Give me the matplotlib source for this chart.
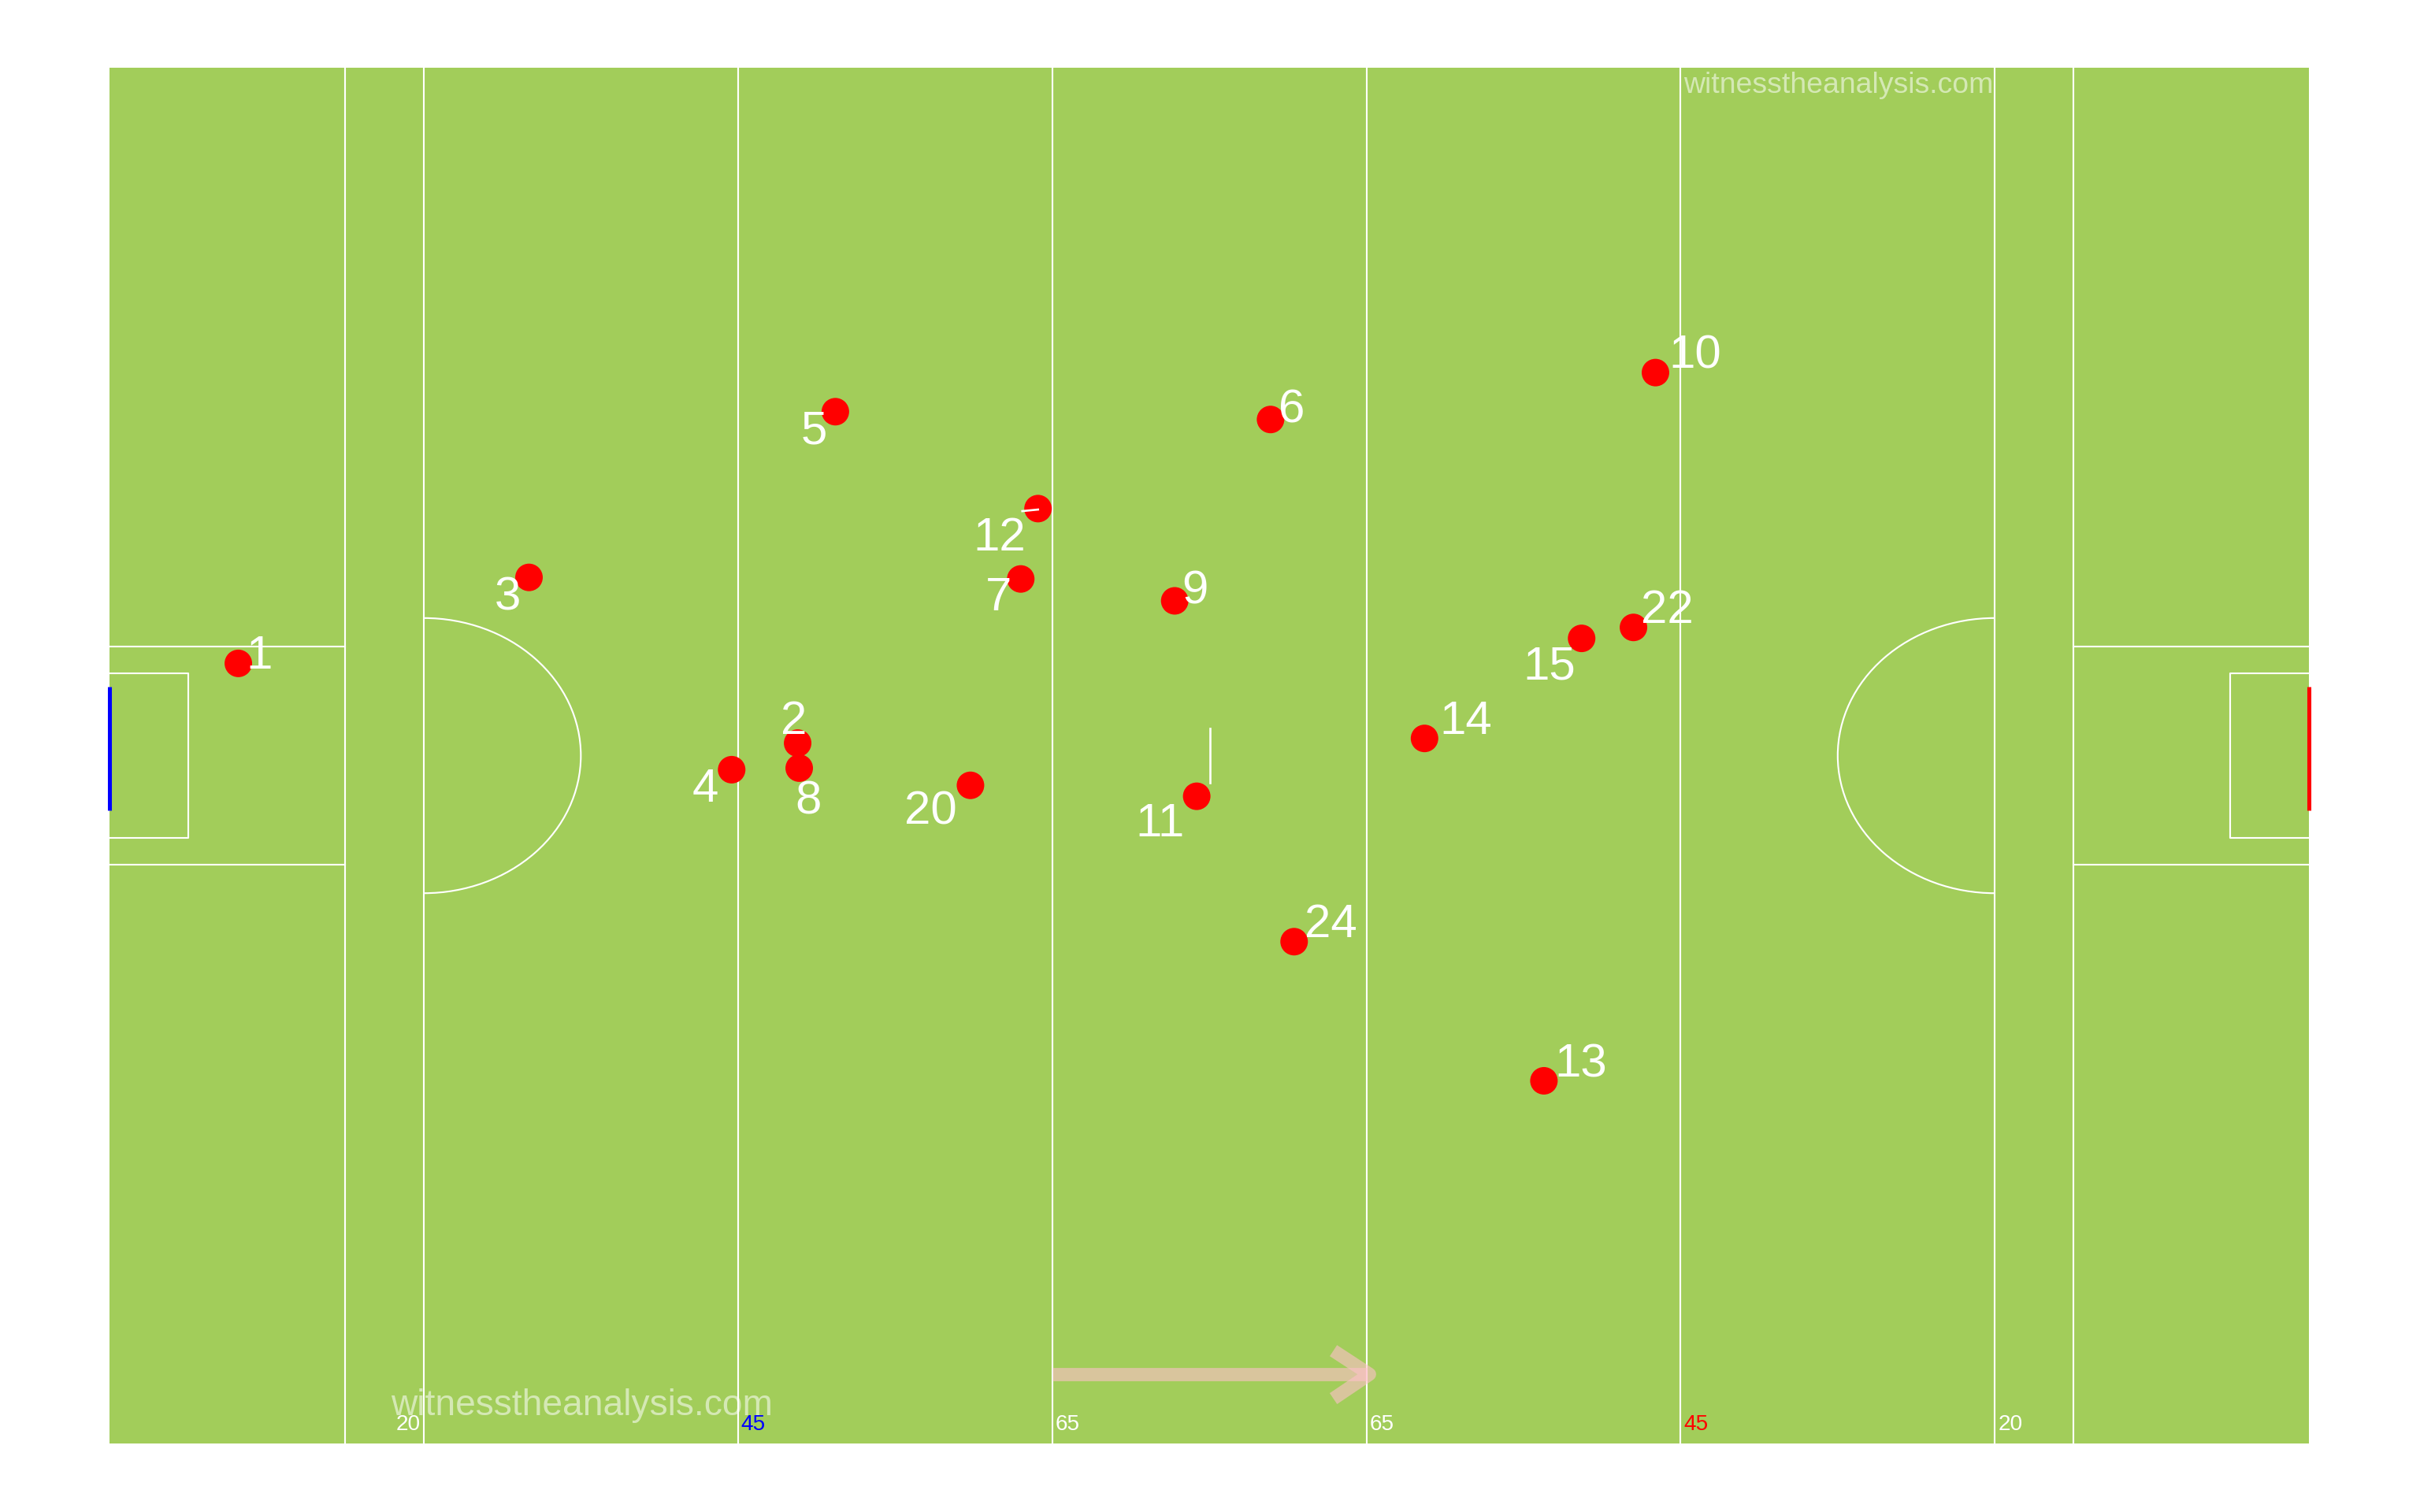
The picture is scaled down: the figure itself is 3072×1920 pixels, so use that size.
import matplotlib
matplotlib.use("Agg")
import matplotlib.pyplot as plt
from matplotlib.patches import Rectangle, Arc

plt.rcParams['font.family'] = ['Liberation Sans', 'DejaVu Sans']

# kick-out / possession positions (pitch units: 0-140 long, 0-88 wide)
labels = ['1', '2', '3', '4', '5', '6', '7', '8', '9', '10', '11', '12',
          '13', '14', '15', '20', '22', '24']
pos_x = [8.2, 43.8, 26.7, 39.6, 46.2, 73.9, 58.0, 43.9, 67.8, 98.4, 69.2, 59.1,
         91.3, 83.7, 93.7, 54.8, 97.0, 75.4]
pos_y = [49.9, 44.8, 55.4, 43.1, 66.0, 65.5, 55.3, 43.2, 53.9, 68.5, 41.4, 59.8,
         23.2, 45.1, 51.5, 42.1, 52.2, 32.1]

# leader segments drawn by the label repeller (x0, y0, x1, y1)
seg_x0 = [58.1, 70.05]
seg_y0 = [59.64, 42.26]
seg_x1 = [59.1, 70.05]
seg_y1 = [59.74, 45.74]

# pitch markings
line_x = [15, 20, 40, 60, 80, 100, 120, 125]
dist_labels = ['20', '45', '65', '65', '45', '20']
dist_x = [19.8, 40.2, 60.2, 80.2, 100.2, 120.2]
dist_colors = ['white', 'blue', 'white', 'white', 'red', 'white']
dist_ha = ['right', 'left', 'left', 'left', 'left', 'left']

# label offsets in points (repelled label placement)
offsets = [(10, 5), (-2, 12), (-10, -8), (-12.5, -7.5), (-10, -7.5), (10, 6),
           (-10.5, -7.5), (4.5, -14), (9.8, 6.4), (19, 9.6), (-17.6, -11.3),
           (-18.4, -12.4), (17.6, 9.6), (19.8, 9.6), (-15.4, -11.8), (-19, -11),
           (16.2, 9.6), (17.6, 9.6)]

L, W = 140, 88
green = '#A2CD5A'

fig = plt.figure(figsize=(16, 10), dpi=192)
ax = fig.add_axes([0.04525, 0.0453, 0.9089, 0.9099])
ax.set_xlim(0, L)
ax.set_ylim(0, W)
ax.axis('off')

ax.add_patch(Rectangle((0, 0), L, W, facecolor=green, edgecolor='none', zorder=0))

lw = 0.8
for x in line_x:
    ax.plot([x, x], [0, W], color='white', lw=lw, zorder=1)

# large and small rectangles
for x0, x1 in [(0, 15), (125, 140)]:
    ax.plot([x0, x1], [37.0, 37.0], color='white', lw=lw, zorder=1)
    ax.plot([x0, x1], [51.0, 51.0], color='white', lw=lw, zorder=1)
ax.plot([0, 5, 5, 0], [38.74, 38.74, 49.26, 49.26], color='white', lw=lw, zorder=1)
ax.plot([140, 135, 135, 140], [38.74, 38.74, 49.26, 49.26], color='white', lw=lw, zorder=1)

# semicircles
ax.add_patch(Arc((20, 44), 20, 17.6, theta1=-90, theta2=90, color='white', lw=lw, zorder=1))
ax.add_patch(Arc((120, 44), 20, 17.6, theta1=90, theta2=270, color='white', lw=lw, zorder=1))

# goals
ax.plot([0, 0], [40.5, 48.4], color='blue', lw=1.9, solid_capstyle='butt', clip_on=False, zorder=2)
ax.plot([140, 140], [40.5, 48.4], color='red', lw=1.9, solid_capstyle='butt', clip_on=False, zorder=2)

# distance labels
for t, x, c, ha in zip(dist_labels, dist_x, dist_colors, dist_ha):
    ax.text(x, 1.2, t, color=c, fontsize=10.5, ha=ha, va='center', zorder=3)

# watermarks
ax.text(100.2, 87.75, 'witnesstheanalysis.com', color='white', alpha=0.55,
        fontsize=14, ha='left', va='top', zorder=3)
ax.text(17.9, 1.8, 'witnesstheanalysis.com', color='white', alpha=0.55,
        fontsize=17.3, ha='left', va='baseline', zorder=3)

# direction of play arrow
ax.plot([60, 80], [4.43, 4.43], color='pink', alpha=0.6, lw=6.3,
        solid_capstyle='butt', zorder=2)
ax.plot([77.9, 80.2, 77.9], [5.94, 4.43, 2.87], color='pink', alpha=0.6, lw=6.3,
        solid_capstyle='butt', solid_joinstyle='round', zorder=2)

# points
ax.scatter(pos_x, pos_y, s=172, color='red', edgecolors='none', zorder=5)

# leader segments (drawn over the points)
for a, b, c, d in zip(seg_x0, seg_y0, seg_x1, seg_y1):
    ax.plot([a, c], [b, d], color='white', lw=1.0, zorder=6)

# labels
for t, x, y, (dx, dy) in zip(labels, pos_x, pos_y, offsets):
    ax.annotate(t, (x, y), xytext=(dx, dy - 1.8), textcoords='offset points',
                color='white', fontsize=22.5, ha='center', va='center', zorder=7)

fig.savefig('out.png', dpi=192, facecolor='white')
